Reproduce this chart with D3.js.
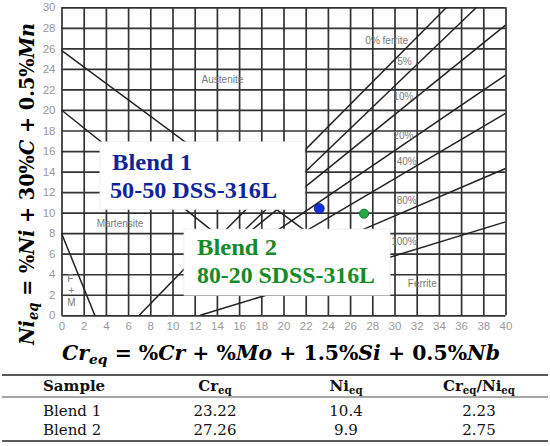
<!DOCTYPE html>
<html><head><meta charset="utf-8">
<script src="https://cdn.jsdelivr.net/npm/d3@7"></script>
<style>body{margin:0;background:#fff} svg{display:block}</style>
</head><body><svg id="c" width="550" height="446"></svg>
<script>
// ---------- data ----------
const crTicks = d3.range(0, 41, 2);
const niTicks = d3.range(0, 31, 2);
const sampleNames = ["Blend 1", "Blend 2"];
const blendTitles = ["50-50 DSS-316L", "80-20 SDSS-316L"];
const crEq = [23.22, 27.26];
const niEq = [10.4, 9.9];
const crNiRatio = [2.23, 2.75];
const ferriteLabels = ["0% ferrite", "5%", "10%", "20%", "40%", "80%", "100%"];
// iso-ferrite lines [cr1, ni1, cr2, ni2]
const ferriteLines = [
  [14.5, 8, 34.7, 30], [16.2, 8, 37.4, 30], [16.8, 8, 40, 28.27],
  [19.1, 8, 40, 23.4], [21.7, 8, 40, 19.67], [26.4, 8, 40, 14.3], [12.5, 0, 40, 9.1]
];
// phase boundary lines [cr1, ni1, cr2, ni2]
const boundaryLines = [[0, 25.8, 22, 8.2], [0, 20, 13.5, 8.3], [0, 8, 3, 0], [7, 0, 11.5, 5]];
const regionNames = ["Austenite", "Martensite", "F", "+", "M", "Ferrite"];

// ---------- layout ----------
const svg = d3.select("#c");
const x = d3.scaleLinear([0, 40], [61.5, 505.5]);
const y = d3.scaleLinear([0, 30], [315.3, 7.3]);
const gridCol = "#333", tickCol = "#9a9a9a";

const gx = svg.append("g").attr("transform", `translate(0,${y(0)})`)
  .call(d3.axisBottom(x).tickValues(crTicks).tickSize(-(y(0) - y(30))).tickPadding(7));
const gy = svg.append("g").attr("transform", `translate(${x(0)},0)`)
  .call(d3.axisLeft(y).tickValues(niTicks).tickSize(-(x(40) - x(0))).tickPadding(6));
[gx, gy].forEach(g => {
  g.select(".domain").remove();
  g.selectAll(".tick line").attr("stroke", gridCol).attr("stroke-width", 1.7);
  g.selectAll(".tick text").attr("fill", tickCol).attr("font-family", "Liberation Sans, Arial, sans-serif").attr("font-size", 11.5);
});

const lineG = svg.append("g").attr("stroke", "#222").attr("stroke-width", 1.5);
lineG.selectAll("line.f").data(ferriteLines).join("line").attr("class", "f")
  .attr("x1", d => x(d[0])).attr("y1", d => y(d[1])).attr("x2", d => x(d[2])).attr("y2", d => y(d[3]));
lineG.selectAll("line.b").data(boundaryLines).join("line").attr("class", "b")
  .attr("x1", d => x(d[0])).attr("y1", d => y(d[1])).attr("x2", d => x(d[2])).attr("y2", d => y(d[3]));

const labelFont = "Liberation Sans, Arial, sans-serif";
const ferriteLabelPos = [[29.3, 26.8], [30.9, 24.7], [30.8, 21.3], [30.8, 17.55], [31.1, 15.0], [31.1, 11.2], [30.85, 7.2]];
svg.append("g").selectAll("text").data(ferriteLabels).join("text")
  .attr("x", (d, i) => x(ferriteLabelPos[i][0])).attr("y", (d, i) => y(ferriteLabelPos[i][1]))
  .attr("dy", "0.35em").attr("text-anchor", "middle").attr("font-family", labelFont)
  .attr("font-size", 10).attr("fill", "#7a7a7a").text(d => d);
const regionPos = [[14.5, 23.0], [5.27, 8.9], [0.8, 3.55], [0.9, 2.45], [0.9, 1.2], [32.5, 3.05]];
svg.append("g").selectAll("text").data(regionNames).join("text")
  .attr("x", (d, i) => x(regionPos[i][0])).attr("y", (d, i) => y(regionPos[i][1]))
  .attr("dy", "0.35em").attr("text-anchor", "middle").attr("font-family", labelFont)
  .attr("font-size", 10).attr("fill", "#7a7a7a").text(d => d);

// annotation boxes
const boxes = [[3.46, 16.9, 21.93, 10.3], [11.03, 8.4, 29.6, 1.95]];
svg.append("g").selectAll("rect").data(boxes).join("rect")
  .attr("x", d => x(d[0])).attr("y", d => y(d[1]))
  .attr("width", d => x(d[2]) - x(d[0])).attr("height", d => y(d[3]) - y(d[1]))
  .attr("fill", "#fff").attr("stroke", "#e4e4e4").attr("stroke-width", 0.6);

const blendColors = ["#0f239c", "#148a28"];
const dotColors = ["#1530d8", "#23a845"];
const dotStroke = ["#0b1a80", "#0f6a25"];
const blendTextPos = [[112, 170, 80, 110, 198, 167], [197, 255, 80, 197, 283, 178]];
const serif = "Liberation Serif, Times New Roman, serif";
sampleNames.forEach((s, i) => {
  const p = blendTextPos[i];
  svg.append("text").attr("x", p[0]).attr("y", p[1]).attr("font-family", serif).attr("font-weight", "bold")
    .attr("font-size", 24).attr("fill", blendColors[i]).attr("textLength", p[2]).attr("lengthAdjust", "spacingAndGlyphs").text(s);
  svg.append("text").attr("x", p[3]).attr("y", p[4]).attr("font-family", serif).attr("font-weight", "bold")
    .attr("font-size", 24).attr("fill", blendColors[i]).attr("textLength", p[5]).attr("lengthAdjust", "spacingAndGlyphs").text(blendTitles[i]);
});

svg.append("g").selectAll("circle").data(crEq).join("circle")
  .attr("cx", d => x(d)).attr("cy", (d, i) => y(niEq[i])).attr("r", (d, i) => i ? 4.6 : 5)
  .attr("fill", (d, i) => dotColors[i]).attr("stroke", (d, i) => dotStroke[i]).attr("stroke-width", 0.8);

// math axis titles
function mathText(sel, parts, size) {
  parts.forEach(p => {
    const t = sel.append("tspan").text(p[0]);
    if (p[1]) t.attr("font-style", "italic");
    if (p[2]) t.attr("font-size", size * 0.68).attr("baseline-shift", "-28%");
  });
}
const mathFont = "DejaVu Serif, serif";
const xt = svg.append("text").attr("x", 62).attr("y", 360).attr("font-family", mathFont)
  .attr("font-weight", "bold").attr("font-size", 20).attr("fill", "#000")
  .attr("textLength", 438).attr("lengthAdjust", "spacingAndGlyphs");
mathText(xt, [["Cr", 1], ["eq", 1, 1], [" = %", 0], ["Cr", 1], [" + %", 0], ["Mo", 1], [" + 1.5%", 0], ["Si", 1], [" + 0.5%", 0], ["Nb", 1]], 20);
const yt = svg.append("text").attr("transform", "translate(34,345) rotate(-90)").attr("font-family", mathFont)
  .attr("font-weight", "bold").attr("font-size", 21).attr("fill", "#000")
  .attr("textLength", 322).attr("lengthAdjust", "spacingAndGlyphs");
mathText(yt, [["Ni", 1], ["eq", 1, 1], [" = %", 0], ["Ni", 1], [" + 30%", 0], ["C", 1], [" + 0.5%", 0], ["Mn", 1]], 21);

// ---------- table ----------
const tFont = "DejaVu Serif, serif";
const rule = (yy, w) => svg.append("line").attr("x1", 2).attr("x2", 548).attr("y1", yy).attr("y2", yy).attr("stroke", "#222").attr("stroke-width", w);
rule(375, 1.6); rule(397, 0.8); rule(441, 1.6);
const colX = [43, 215, 346, 479];
function sub(sel, parts, size) {
  parts.forEach(p => {
    const t = sel.append("tspan").text(p[0]);
    if (p[1]) t.attr("font-size", size * 0.68).attr("baseline-shift", "-25%");
  });
}
const hdr = svg.append("g").attr("font-family", tFont).attr("font-weight", "bold").attr("font-size", 15).attr("fill", "#111");
hdr.append("text").attr("x", colX[0]).attr("y", 391).text("Sample");
sub(hdr.append("text").attr("x", colX[1]).attr("y", 391).attr("text-anchor", "middle"), [["Cr"], ["eq", 1]], 15);
sub(hdr.append("text").attr("x", colX[2]).attr("y", 391).attr("text-anchor", "middle"), [["Ni"], ["eq", 1]], 15);
sub(hdr.append("text").attr("x", colX[3]).attr("y", 391).attr("text-anchor", "middle"), [["Cr"], ["eq", 1], ["/Ni"], ["eq", 1]], 15);
const rows = svg.append("g").attr("font-family", tFont).attr("font-size", 15).attr("fill", "#111");
sampleNames.forEach((s, i) => {
  const yy = 415.5 + i * 19;
  rows.append("text").attr("x", colX[0]).attr("y", yy).text(s);
  rows.append("text").attr("x", colX[1]).attr("y", yy).attr("text-anchor", "middle").text(crEq[i].toFixed(2));
  rows.append("text").attr("x", colX[2]).attr("y", yy).attr("text-anchor", "middle").text(String(niEq[i]));
  rows.append("text").attr("x", colX[3]).attr("y", yy).attr("text-anchor", "middle").text(crNiRatio[i].toFixed(2));
});
</script></body></html>
